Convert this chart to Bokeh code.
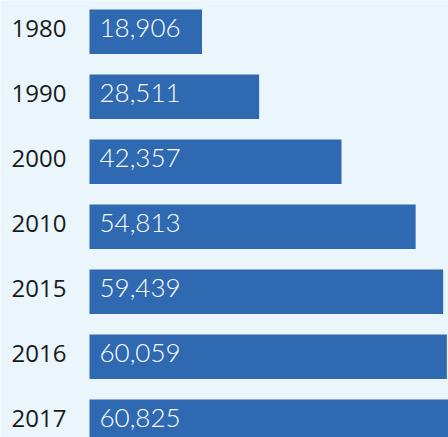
from bokeh.plotting import figure
from bokeh.models import ColumnDataSource, Range1d
from bokeh.core.properties import value
from bokeh.embed import file_html
from bokeh.resources import INLINE

years = ["1980", "1990", "2000", "2010", "2015", "2016", "2017"]
values = [18906, 28511, 42357, 54813, 59439, 60059, 60825]
labels = ["18,906", "28,511", "42,357", "54,813", "59,439", "60,059", "60,825"]

rows = list(range(len(years)))
src = ColumnDataSource(dict(row=rows, year=years, val=values, label=labels,
                            zero=[0] * len(years)))

BG = "#eaf6fc"
BAR = "#2e69b1"

p = figure(width=448, height=437, output_backend="svg", toolbar_location=None,
           x_range=Range1d(-14958, 60336), y_range=Range1d(6.2423, -0.4808),
           min_border=0, outline_line_color=None,
           background_fill_color=BG, border_fill_color=BG)
p.axis.visible = False
p.grid.visible = False

p.hbar(y="row", left="zero", right="val", height=0.685, source=src,
       fill_color=BAR, line_color=None)

p.text(x="zero", y="row", text="year", source=src, x_offset=-78, y_offset=-3,
       text_align="left", text_baseline="middle",
       text_font=value("Open Sans"), text_font_size="24px", text_color="#1a1a1a")

p.text(x="zero", y="row", text="label", source=src, x_offset=10, y_offset=-4,
       text_align="left", text_baseline="middle",
       text_font=value("Lato Light"), text_font_size="26px", text_color="white")

open("out.html", "w").write(file_html(p, INLINE))
